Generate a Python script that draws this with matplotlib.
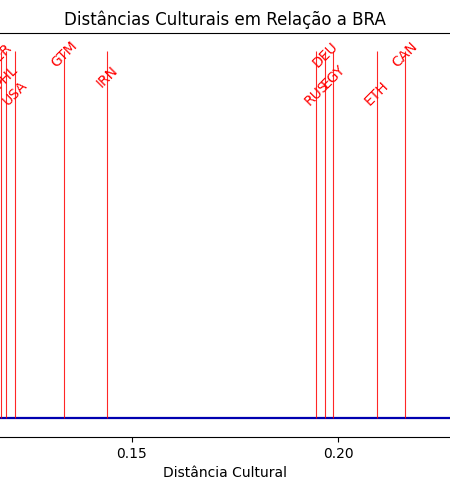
import numpy as np
import matplotlib
matplotlib.use("Agg")
import matplotlib.pyplot as plt

# distancias culturais em relacao ao Brasil
paises = ['PER', 'PHL', 'USA', 'GTM', 'IRN', 'RUS', 'DEU', 'EGY', 'ETH', 'CAN']
distancias = [0.1183, 0.1197, 0.1218, 0.1337, 0.1441, 0.1947, 0.1969, 0.1988, 0.2093, 0.2162]

niveis = [0.99, 0.93, 0.885]

fig = plt.figure(figsize=(4.5, 4.9), dpi=100)
ax = fig.add_axes([0.0, 0.1082, 1.0, 0.8245])

ax.axhline(0, color='#0000b0', linewidth=1.6)
ax.vlines(distancias, 0, 1, colors='red', linewidth=0.8, alpha=0.85)
for i, (p, d) in enumerate(zip(paises, distancias)):
    ax.text(d, niveis[i % 3], p, color='red', rotation=45, ha='center', va='center', fontsize=10)

ax.set_xlim(0.11813, 0.22703)
ax.set_ylim(-0.053, 1.049)
ax.set_xticks([0.15, 0.20])
ax.set_xticklabels(['0.15', '0.20'])
ax.set_yticks([])
ax.spines['left'].set_visible(False)
ax.spines['right'].set_visible(False)
ax.set_xlabel('Distância Cultural')
ax.set_title('Distâncias Culturais em Relação a BRA', fontsize=12)

fig.savefig('out.png', dpi=100)
